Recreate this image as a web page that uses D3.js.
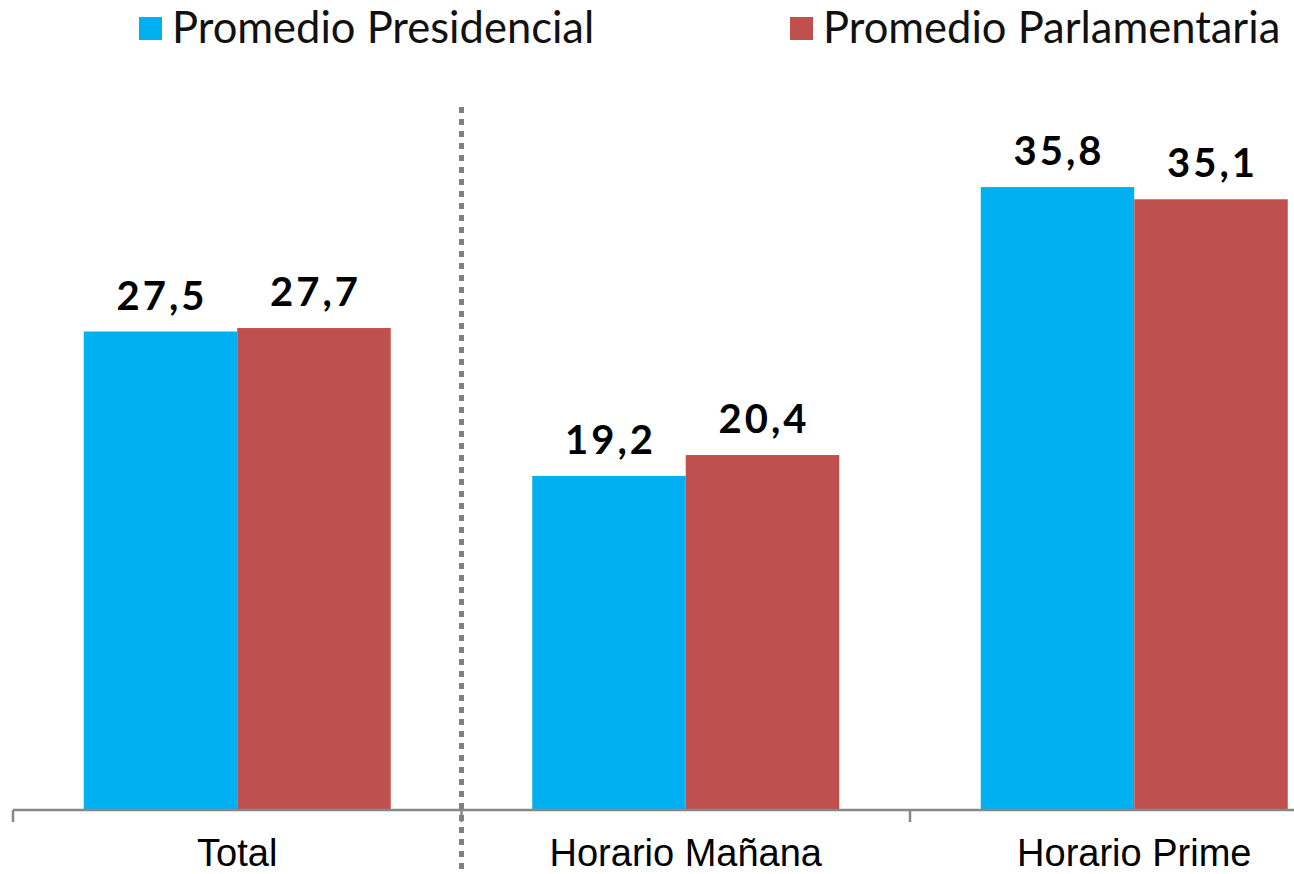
<!DOCTYPE html>
<html>
<head>
<meta charset="utf-8">
<script src="https://cdn.jsdelivr.net/npm/d3@7"></script>
<style>
  body { margin: 0; background: #fff; }
  svg { display: block; font-family: Lato, "Open Sans", sans-serif; }
  .axis path, .axis line { stroke: #878787; stroke-width: 2.5; }
  .axis text { fill: #000; font-size: 38px; }
  .bar_label { font-weight: bold; font-size: 40px; letter-spacing: 3px; fill: #000; }
  .legend text { font-size: 43.5px; fill: #111; }
</style>
</head>
<body>
<div id="chart"></div>
<script>

/* grouped bars: presidencial vs parlamentaria */

var categories = ["Total", "Horario Mañana", "Horario Prime"],
    series = ["Promedio Presidencial", "Promedio Parlamentaria"],
    colors = ["#00B0F0", "#C0504D"],
    presidencial = [27.5, 19.2, 35.8],
    parlamentaria = [27.7, 20.4, 35.1];

var width = 1294,
    height = 874,
    baseline = 810;

// table for the bars

var rows = categories.map(function(c, i) {
  return { cat: c, values: [presidencial[i], parlamentaria[i]] };
});

var formatNum = function(v) { return d3.format(".1f")(v).replace(".", ","); };

// scales

var xScale = d3.scaleBand().domain(categories).range([13, 1358.5]).paddingInner(0).paddingOuter(0);
var xInner = d3.scalePoint().domain([0, 1]).range([0, 1]);
var barWidth = 153.5;
var groupPad = (xScale.bandwidth() - 2 * barWidth) / 2;
var yScale = d3.scaleLinear().domain([0, 40]).range([baseline, 114]);

var svg = d3.select("#chart")
  .append("svg")
    .attr("width", width)
    .attr("height", height);

// legend

var legend = svg.append("g").attr("class", "legend");
var legendX = [139, 790];

series.forEach(function(s, i) {
  legend.append("rect")
    .attr("x", legendX[i])
    .attr("y", 17)
    .attr("width", 23)
    .attr("height", 23)
    .attr("fill", colors[i]);
  legend.append("text")
    .attr("x", legendX[i] + 33)
    .attr("y", 43)
    .text(s);
});

// bars

var groups = svg.selectAll(".group")
  .data(rows)
  .enter()
  .append("g")
    .attr("class", "group")
    .attr("transform", function(d) { return "translate(" + (xScale(d.cat) + groupPad) + ",0)"; });

groups.selectAll(".bar")
  .data(function(d) { return d.values; })
  .enter()
  .append("rect")
    .attr("class", "bar")
    .attr("x", function(d, i) { return xInner(i) * barWidth; })
    .attr("y", function(d) { return yScale(d); })
    .attr("width", barWidth)
    .attr("height", function(d) { return baseline - yScale(d); })
    .attr("fill", function(d, i) { return colors[i]; });

groups.selectAll(".bar_label")
  .data(function(d) { return d.values; })
  .enter()
  .append("text")
    .attr("class", "bar_label")
    .attr("x", function(d, i) { return xInner(i) * barWidth + barWidth / 2 + 1.5; })
    .attr("y", function(d) { return yScale(d) - 22; })
    .attr("text-anchor", "middle")
    .text(formatNum);

// x axis

var xAxis = svg.append("g")
  .attr("class", "axis")
  .attr("transform", "translate(0," + baseline + ")")
  .call(d3.axisBottom(xScale).tickSize(0).tickSizeOuter(0).tickPadding(0));

xAxis.select(".domain").attr("d", "M13,0H" + width);
xAxis.selectAll(".tick text").attr("y", 56).attr("dy", null);

// group boundary ticks

xAxis.selectAll(".sep")
  .data(categories)
  .enter()
  .append("line")
    .attr("class", "sep")
    .attr("x1", function(d) { return xScale(d); })
    .attr("x2", function(d) { return xScale(d); })
    .attr("y1", 0)
    .attr("y2", 12);

// dotted divider after Total

var divX = xScale(categories[1]);
svg.append("line")
  .attr("x1", divX)
  .attr("x2", divX)
  .attr("y1", 107)
  .attr("y2", height)
  .attr("stroke", "#808080")
  .attr("stroke-width", 5)
  .attr("stroke-dasharray", "6,6");

</script>
</body>
</html>
